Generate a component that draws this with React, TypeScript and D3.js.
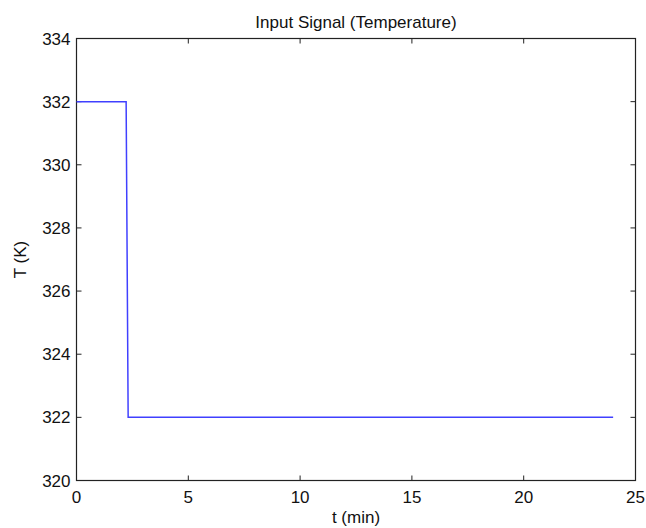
import React, { useEffect, useRef } from 'react';
import * as d3 from 'd3';

// step input: temperature held at 332 K, dropped to 322 K at ~2.3 min
const timeMin = [0, 2.22, 2.31, 24];
const tempK = [332, 332, 322, 322];
const xTicks = [0, 5, 10, 15, 20, 25];
const yTicks = [320, 322, 324, 326, 328, 330, 332, 334];

export default function App() {
  const ref = useRef<SVGSVGElement>(null);

  useEffect(() => {
    const width = 646;
    const height = 528;
    const margin = { top: 38.5, right: 10.5, bottom: 47.5, left: 76.5 };
    const font = 'Liberation Sans, Arial, Helvetica, sans-serif';
    const fs = 17;

    const svg = d3.select(ref.current);
    svg.selectAll('*').remove();
    svg.attr('viewBox', [0, 0, width, height].join(' '));

    const x = d3.scaleLinear([0, 25], [margin.left, width - margin.right]);
    const y = d3.scaleLinear([320, 334], [height - margin.bottom, margin.top]);

    const tick = 5;
    const axisColor = '#222';

    // ticks drawn inward on all four sides (box style)
    const g = svg.append('g');
    xTicks.forEach((t) => {
      g.append('line')
        .attr('x1', x(t)).attr('x2', x(t))
        .attr('y1', y(320)).attr('y2', y(320) - tick)
        .attr('stroke', axisColor);
      g.append('line')
        .attr('x1', x(t)).attr('x2', x(t))
        .attr('y1', y(334)).attr('y2', y(334) + tick)
        .attr('stroke', axisColor);
      g.append('text')
        .attr('x', x(t))
        .attr('y', y(320) + 22)
        .attr('text-anchor', 'middle')
        .attr('font-family', font)
        .attr('font-size', fs)
        .attr('fill', '#111')
        .text(t);
    });
    yTicks.forEach((t) => {
      g.append('line')
        .attr('x1', x(0)).attr('x2', x(0) + tick)
        .attr('y1', y(t)).attr('y2', y(t))
        .attr('stroke', axisColor);
      g.append('line')
        .attr('x1', x(25)).attr('x2', x(25) - tick)
        .attr('y1', y(t)).attr('y2', y(t))
        .attr('stroke', axisColor);
      g.append('text')
        .attr('x', x(0) - 6)
        .attr('y', y(t) + 6)
        .attr('text-anchor', 'end')
        .attr('font-family', font)
        .attr('font-size', fs)
        .attr('fill', '#111')
        .text(t);
    });

    // box
    g.append('rect')
      .attr('x', x(0))
      .attr('y', y(334))
      .attr('width', x(25) - x(0))
      .attr('height', y(320) - y(334))
      .attr('fill', 'none')
      .attr('stroke', axisColor)
      .attr('stroke-width', 1.2);

    // signal
    const line = d3
      .line<number>()
      .x((_, i) => x(timeMin[i]))
      .y((d) => y(d));
    svg
      .append('path')
      .datum(tempK)
      .attr('d', line)
      .attr('fill', 'none')
      .attr('stroke', '#4040ff')
      .attr('stroke-width', 1.5);

    // titles
    svg.append('text')
      .attr('x', (x(0) + x(25)) / 2)
      .attr('y', 28)
      .attr('text-anchor', 'middle')
      .attr('font-family', font)
      .attr('font-size', fs)
      .attr('fill', '#111')
      .text('Input Signal (Temperature)');
    svg.append('text')
      .attr('x', (x(0) + x(25)) / 2)
      .attr('y', 523)
      .attr('text-anchor', 'middle')
      .attr('font-family', font)
      .attr('font-size', fs)
      .attr('fill', '#111')
      .text('t (min)');
    svg.append('text')
      .attr('transform', `translate(26,${(y(320) + y(334)) / 2}) rotate(-90)`)
      .attr('text-anchor', 'middle')
      .attr('font-family', font)
      .attr('font-size', fs)
      .attr('fill', '#111')
      .text('T (K)');
  }, []);

  return (
    <svg
      ref={ref}
      width={646}
      height={528}
      style={{ position: 'absolute', left: 0, top: 0, background: '#fff' }}
    />
  );
}
